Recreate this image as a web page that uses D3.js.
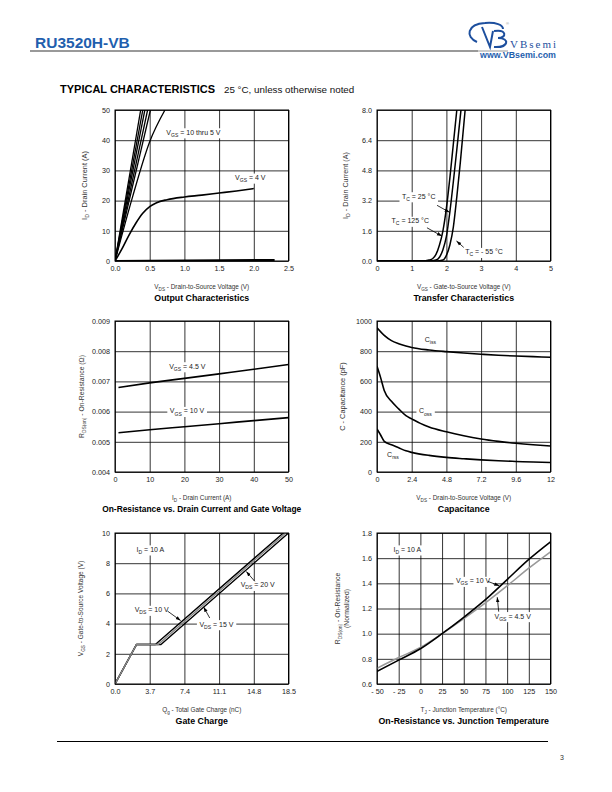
<!DOCTYPE html>
<html>
<head>
<meta charset="utf-8">
<script src="https://cdn.jsdelivr.net/npm/d3@7"></script>
<style>
  body { margin: 0; background: #fff; }
  svg { display: block; }
</style>
</head>
<body>
<div id="page"></div>
<script>
const FONT = "'Liberation Sans', Arial, Helvetica, sans-serif";

// ---- Output Characteristics ----
const outXTicks = [0, 0.5, 1.0, 1.5, 2.0, 2.5];
const outXLabels = ["0.0", "0.5", "1.0", "1.5", "2.0", "2.5"];
const outYTicks = [0, 10, 20, 30, 40, 50];
const outHigh = [ // VGS = 10 thru 5 V
  [[0, 0], [0.37, 50]],
  [[0, 0], [0.40, 50]],
  [[0, 0], [0.43, 50]],
  [[0, 0], [0.47, 50]],
  [[0, 0], [0.51, 50]],
  [[0, 0], [0.25, 21], [0.5, 39.5], [0.72, 50]]
];
const outVgs4 = [[0, 0], [0.1, 4], [0.2, 8.5], [0.3, 12.5], [0.4, 15.8], [0.5, 18], [0.6, 19.3],
  [0.75, 20.3], [1.0, 21.2], [1.25, 21.8], [1.5, 22.5], [1.75, 23.2], [2.0, 24]];
const outVgs3 = [[0, 0], [2.3, 0.3]];

// ---- Transfer Characteristics ----
const trXTicks = [0, 1, 2, 3, 4, 5];
const trYTicks = [0, 1.6, 3.2, 4.8, 6.4, 8.0];
const trYLabels = ["0.0", "1.6", "3.2", "4.8", "6.4", "8.0"];
const tr125 = [[0, 0], [1.3, 0], [1.5, 0.05], [1.6, 0.12], [1.7, 0.35], [1.8, 0.85], [1.9, 1.6],
  [2.0, 2.8], [2.1, 4.4], [2.2, 6.2], [2.3, 8]];
const tr25 = [[0, 0], [1.5, 0], [1.7, 0.05], [1.8, 0.2], [1.9, 0.6], [2.0, 1.3], [2.1, 2.6],
  [2.2, 4.2], [2.3, 5.9], [2.42, 8]];
const trM55 = [[0, 0], [1.7, 0], [1.9, 0.05], [2.0, 0.3], [2.1, 0.85], [2.2, 1.8], [2.3, 3.4],
  [2.4, 5.2], [2.54, 8]];

// ---- On-Resistance vs. Drain Current ----
const rdXTicks = [0, 10, 20, 30, 40, 50];
const rdYTicks = [0.004, 0.005, 0.006, 0.007, 0.008, 0.009];
const rdYLabels = ["0.004", "0.005", "0.006", "0.007", "0.008", "0.009"];
const rdVgs45 = [[1, 0.0068], [10, 0.00695], [20, 0.0071], [30, 0.00725], [40, 0.0074], [50, 0.00756]];
const rdVgs10 = [[1, 0.0053], [10, 0.0054], [20, 0.0055], [30, 0.0056], [40, 0.0057], [50, 0.0058]];

// ---- Capacitance ----
const capXTicks = [0, 2.4, 4.8, 7.2, 9.6, 12];
const capYTicks = [0, 200, 400, 600, 800, 1000];
const capCiss = [[0, 955], [0.5, 905], [1, 870], [1.5, 850], [2, 835], [2.4, 825], [3.6, 808],
  [4.8, 797], [6, 788], [7.2, 780], [8.4, 773], [9.6, 768], [10.8, 764], [12, 760]];
const capCoss = [[0, 700], [0.25, 625], [0.5, 540], [1, 468], [1.5, 418], [2, 373], [2.4, 352],
  [3, 322], [3.6, 298], [4.8, 266], [6, 240], [7.2, 219], [8.4, 203], [9.6, 190], [10.8, 180], [12, 172]];
const capCrss = [[0, 285], [0.25, 245], [0.5, 203], [1, 180], [1.5, 160], [2, 140], [2.4, 130],
  [3.6, 110], [4.8, 97], [6, 88], [7.2, 80], [8.4, 74], [9.6, 70], [10.8, 66], [12, 63]];

// ---- Gate Charge ----
const qgXTicks = [0, 3.7, 7.4, 11.1, 14.8, 18.5];
const qgXLabels = ["0.0", "3.7", "7.4", "11.1", "14.8", "18.5"];
const qgYTicks = [0, 2, 4, 6, 8, 10];
const qgVds10 = [[0, 0], [2.3, 2.62], [4.3, 2.62], [17.95, 10]];
const qgVds15 = [[0, 0], [2.3, 2.62], [4.6, 2.62], [18.2, 10]];
const qgVds20 = [[0, 0], [2.3, 2.62], [4.9, 2.62], [18.5, 10]];

// ---- On-Resistance vs. Junction Temperature ----
const rtXTicks = [-50, -25, 0, 25, 50, 75, 100, 125, 150];
const rtXLabels = ["- 50", "- 25", "0", "25", "50", "75", "100", "125", "150"];
const rtYTicks = [0.6, 0.8, 1.0, 1.2, 1.4, 1.6, 1.8];
const rtYLabels = ["0.6", "0.8", "1.0", "1.2", "1.4", "1.6", "1.8"];
const rtVgs10 = [[-50, 0.70], [-25, 0.79], [0, 0.88], [25, 1.0], [50, 1.13], [75, 1.27],
  [100, 1.43], [125, 1.59], [150, 1.73]];
const rtVgs45 = [[-50, 0.725], [-25, 0.81], [0, 0.89], [25, 1.0], [50, 1.12], [75, 1.245],
  [100, 1.38], [125, 1.52], [150, 1.65]];

const svg = d3.select("#page").append("svg")
  .attr("width", 612)
  .attr("height", 792)
  .style("font-family", FONT);

svg.append("defs").append("marker")
  .attr("id", "arr")
  .attr("viewBox", "0 0 10 10")
  .attr("refX", 10).attr("refY", 5)
  .attr("markerWidth", 5).attr("markerHeight", 5)
  .attr("markerUnits", "userSpaceOnUse")
  .attr("orient", "auto")
  .append("path").attr("d", "M0,1.5L10,5L0,8.5Z").attr("fill", "#000");

// text with _{sub} parts
function rich(t, str, fs) {
  const parts = str.split(/(_\{[^}]*\})/).filter(s => s.length);
  let down = false;
  parts.forEach(p => {
    if (p.startsWith("_{")) {
      t.append("tspan").attr("dy", fs * 0.3).attr("font-size", fs * 0.72).text(p.slice(2, -1));
      down = true;
    } else {
      const ts = t.append("tspan").text(p);
      if (down) { ts.attr("dy", -fs * 0.3); down = false; }
    }
  });
  return t;
}

// ---- header ----
svg.append("text").attr("x", 35).attr("y", 48)
  .attr("font-size", 15.5).attr("font-weight", "bold").attr("fill", "#1f5fae")
  .text("RU3520H-VB");
svg.append("line").attr("x1", 30).attr("x2", 478).attr("y1", 51).attr("y2", 51)
  .attr("stroke", "#999").attr("stroke-width", 1.8);
svg.append("line").attr("x1", 478).attr("x2", 508).attr("y1", 51).attr("y2", 51)
  .attr("stroke", "#aaa").attr("stroke-width", 1.2);

const logo = svg.append("g").attr("fill", "none").attr("stroke", "#1d4f9e").attr("stroke-width", 2);
logo.append("path").attr("d", "M477,42 C465,37 467,24 485,23 C496,22 503,25 503,29");
logo.append("path").attr("d", "M482,27 L490,47 L493,31");
logo.append("path").attr("d", "M494,31 C507,29 507,38 498,38 C510,38 509,48 494,47");
svg.append("text").attr("x", 506).attr("y", 25).attr("font-size", 4).attr("fill", "#888").text("®");
svg.append("text").attr("x", 510).attr("y", 48)
  .attr("font-family", "'Liberation Serif', 'DejaVu Serif', serif")
  .attr("font-size", 11).attr("fill", "#1d4f9e")
  .attr("textLength", 46).attr("lengthAdjust", "spacing")
  .text("VBsemi");
svg.append("text").attr("x", 480).attr("y", 58)
  .attr("font-size", 8.6).attr("font-weight", "bold").attr("fill", "#1f5fae")
  .attr("textLength", 76).attr("lengthAdjust", "spacingAndGlyphs")
  .text("www.VBsemi.com");

svg.append("text").attr("x", 60).attr("y", 93)
  .attr("font-size", 10.2).attr("font-weight", "900").attr("fill", "#000")
  .attr("textLength", 155).attr("lengthAdjust", "spacingAndGlyphs")
  .text("TYPICAL CHARACTERISTICS");
svg.append("text").attr("x", 224).attr("y", 93)
  .attr("font-size", 9.8).attr("fill", "#111")
  .text("25 °C, unless otherwise noted");

// footer
svg.append("line").attr("x1", 57).attr("x2", 548).attr("y1", 741.5).attr("y2", 741.5)
  .attr("stroke", "#000").attr("stroke-width", 1);
svg.append("text").attr("x", 560).attr("y", 760).attr("font-size", 7).attr("fill", "#333").text("3");

// ---- panels ----
const W = 173.5, H = 151;
const LABEL_FS = 7;
let clipId = 0;

function panel(o) {
  const g = svg.append("g").attr("transform", `translate(${o.left},${o.top})`);
  const x = d3.scaleLinear().domain(o.xDomain).range([0, W]);
  const y = d3.scaleLinear().domain(o.yDomain).range([H, 0]);

  const xa = g.append("g").attr("transform", `translate(0,${H})`)
    .call(d3.axisBottom(x).tickValues(o.xTicks)
      .tickFormat((d, i) => o.xLabels ? o.xLabels[i] : d)
      .tickSize(-H).tickPadding(5));
  const ya = g.append("g")
    .call(d3.axisLeft(y).tickValues(o.yTicks)
      .tickFormat((d, i) => o.yLabels ? o.yLabels[i] : d)
      .tickSize(-W).tickPadding(5));
  [xa, ya].forEach(a => {
    a.attr("font-family", FONT).attr("font-size", 7.2);
    a.select(".domain").remove();
    a.selectAll("line").attr("stroke", "#000").attr("stroke-width", 0.8);
    a.selectAll("text").attr("fill", "#222");
  });

  const id = "clip" + (clipId++);
  g.append("clipPath").attr("id", id).append("rect").attr("width", W).attr("height", H);
  const plot = g.append("g").attr("clip-path", `url(#${id})`);
  const ann = g.append("g");

  g.append("rect").attr("width", W).attr("height", H)
    .attr("fill", "none").attr("stroke", "#000").attr("stroke-width", 1);

  rich(g.append("text").attr("x", W / 2).attr("y", H + 28)
    .attr("text-anchor", "middle").attr("font-size", 6.4).attr("fill", "#333"), o.xTitle, 6.4);
  g.append("text").attr("x", W / 2).attr("y", H + 40)
    .attr("text-anchor", "middle").attr("font-size", o.titleSize || 8.8).attr("font-weight", "bold")
    .attr("fill", "#000").text(o.title);

  o.yTitle.forEach((s, i) => {
    rich(g.append("text")
      .attr("transform", `translate(${o.yTitleX[i]},${H / 2}) rotate(-90)`)
      .attr("text-anchor", "middle").attr("dy", "0.35em")
      .attr("font-size", o.yTitleSize || 6.8).attr("fill", "#333"), s, o.yTitleSize || 6.8);
  });

  const p = { g, x, y, plot, ann };
  p.curve = (pts, color, width, curve) => plot.append("path").datum(pts)
    .attr("fill", "none").attr("stroke", color || "#000").attr("stroke-width", width || 1.5)
    .attr("stroke-linejoin", "round")
    .attr("d", d3.line().x(d => x(d[0])).y(d => y(d[1])).curve(curve || d3.curveMonotoneX));
  p.label = (xv, yv, str) => {
    const t = rich(ann.append("text").attr("x", x(xv)).attr("y", y(yv))
      .attr("font-size", LABEL_FS).attr("fill", "#222"), str, LABEL_FS);
    const b = t.node().getBBox();
    ann.insert("rect", "text").attr("x", b.x - 2.5).attr("y", b.y - 0.5)
      .attr("width", b.width + 5).attr("height", b.height + 1).attr("fill", "#fff");
    return t;
  };
  p.arrow = (a, b) => ann.append("line")
    .attr("x1", x(a[0])).attr("y1", y(a[1])).attr("x2", x(b[0])).attr("y2", y(b[1]))
    .attr("stroke", "#000").attr("stroke-width", 0.8).attr("marker-end", "url(#arr)");
  return p;
}

// 1. Output Characteristics
const p1 = panel({
  left: 115, top: 110, xDomain: [0, 2.5], yDomain: [0, 50],
  xTicks: outXTicks, xLabels: outXLabels, yTicks: outYTicks,
  xTitle: "V_{DS} - Drain-to-Source Voltage (V)", title: "Output Characteristics",
  yTitle: ["I_{D} - Drain Current (A)"], yTitleX: [-31], yTitleSize: 7.4
});
outHigh.forEach(s => p1.curve(s, "#000", 1.3));
p1.curve(outVgs4, "#000", 1.6);
p1.curve(outVgs3, "#000", 2.2, d3.curveLinear);
p1.label(0.74, 41.8, "V_{GS} = 10 thru 5 V");
p1.label(1.73, 26.8, "V_{GS} = 4 V");

// 2. Transfer Characteristics
const p2 = panel({
  left: 377, top: 110, xDomain: [0, 5], yDomain: [0, 8],
  xTicks: trXTicks, yTicks: trYTicks, yLabels: trYLabels,
  xTitle: "V_{GS} - Gate-to-Source Voltage (V)", title: "Transfer Characteristics",
  yTitle: ["I_{D} - Drain Current (A)"], yTitleX: [-32], yTitleSize: 7.2
});
p2.curve(tr125, "#000", 1.5);
p2.curve(tr25, "#000", 1.5);
p2.curve(trM55, "#000", 1.5);
p2.label(0.72, 3.3, "T_{C} = 25 °C");
p2.arrow([1.73, 2.95], [2.09, 2.58]);
p2.label(0.42, 2.0, "T_{C} = 125 °C");
p2.arrow([1.44, 1.76], [1.87, 1.32]);
p2.label(2.54, 0.35, "T_{C} = - 55 °C");
p2.arrow([2.5, 0.72], [2.29, 1.06]);

// 3. On-Resistance vs. Drain Current and Gate Voltage
const p3 = panel({
  left: 115, top: 321, xDomain: [0, 50], yDomain: [0.004, 0.009],
  xTicks: rdXTicks, yTicks: rdYTicks, yLabels: rdYLabels,
  xTitle: "I_{D} - Drain Current (A)", title: "On-Resistance vs. Drain Current and Gate Voltage",
  titleSize: 8.4,
  yTitle: ["R_{DS(on)} - On-Resistance (Ω)"], yTitleX: [-33]
});
p3.curve(rdVgs45, "#000", 1.6);
p3.curve(rdVgs10, "#000", 1.6);
p3.label(15.6, 0.00742, "V_{GS} = 4.5 V");
p3.label(15.8, 0.00594, "V_{GS} = 10 V");

// 4. Capacitance
const p4 = panel({
  left: 377, top: 321, xDomain: [0, 12], yDomain: [0, 1000],
  xTicks: capXTicks, yTicks: capYTicks,
  xTitle: "V_{DS} - Drain-to-Source Voltage (V)", title: "Capacitance",
  yTitle: ["C - Capacitance (pF)"], yTitleX: [-35], yTitleSize: 7.4
});
p4.curve(capCiss, "#000", 1.6);
p4.curve(capCoss, "#000", 1.6);
p4.curve(capCrss, "#000", 1.6);
p4.label(3.3, 862, "C_{iss}");
p4.label(2.9, 388, "C_{oss}");
p4.label(0.7, 100, "C_{rss}");

// 5. Gate Charge
const p5 = panel({
  left: 115, top: 533, xDomain: [0, 18.5], yDomain: [0, 10],
  xTicks: qgXTicks, xLabels: qgXLabels, yTicks: qgYTicks,
  xTitle: "Q_{g} - Total Gate Charge (nC)", title: "Gate Charge",
  yTitle: ["V_{GS} - Gate-to-Source Voltage (V)"], yTitleX: [-34], yTitleSize: 6.5
});
p5.curve(qgVds10, "#000", 1.4, d3.curveLinear);
p5.curve(qgVds20, "#000", 1.4, d3.curveLinear);
p5.curve(qgVds15, "#888", 1.4, d3.curveLinear);
p5.label(2.3, 8.75, "I_{D} = 10 A");
p5.label(2.1, 4.75, "V_{DS} = 10 V");
p5.arrow([5.6, 4.83], [7.0, 4.2]);
p5.label(9.0, 3.8, "V_{DS} = 15 V");
p5.arrow([10.1, 4.37], [9.45, 5.1]);
p5.label(13.4, 6.4, "V_{DS} = 20 V");
p5.arrow([14.9, 6.8], [14.0, 7.45]);

// 6. On-Resistance vs. Junction Temperature
const p6 = panel({
  left: 377, top: 533, xDomain: [-50, 150], yDomain: [0.6, 1.8],
  xTicks: rtXTicks, xLabels: rtXLabels, yTicks: rtYTicks, yLabels: rtYLabels,
  xTitle: "T_{J} - Junction Temperature (°C)", title: "On-Resistance vs. Junction Temperature",
  yTitle: ["R_{DS(on)} - On-Resistance", "(Normalized)"], yTitleX: [-39, -30.5]
});
p6.curve(rtVgs45, "#999", 1.6);
p6.curve(rtVgs10, "#000", 1.6);
p6.label(-31, 1.65, "I_{D} = 10 A");
p6.label(41, 1.40, "V_{GS} = 10 V");
p6.arrow([78, 1.415], [91, 1.38]);
p6.label(85.5, 1.12, "V_{GS} = 4.5 V");
p6.arrow([90.3, 1.175], [88.6, 1.29]);
</script>
</body>
</html>
